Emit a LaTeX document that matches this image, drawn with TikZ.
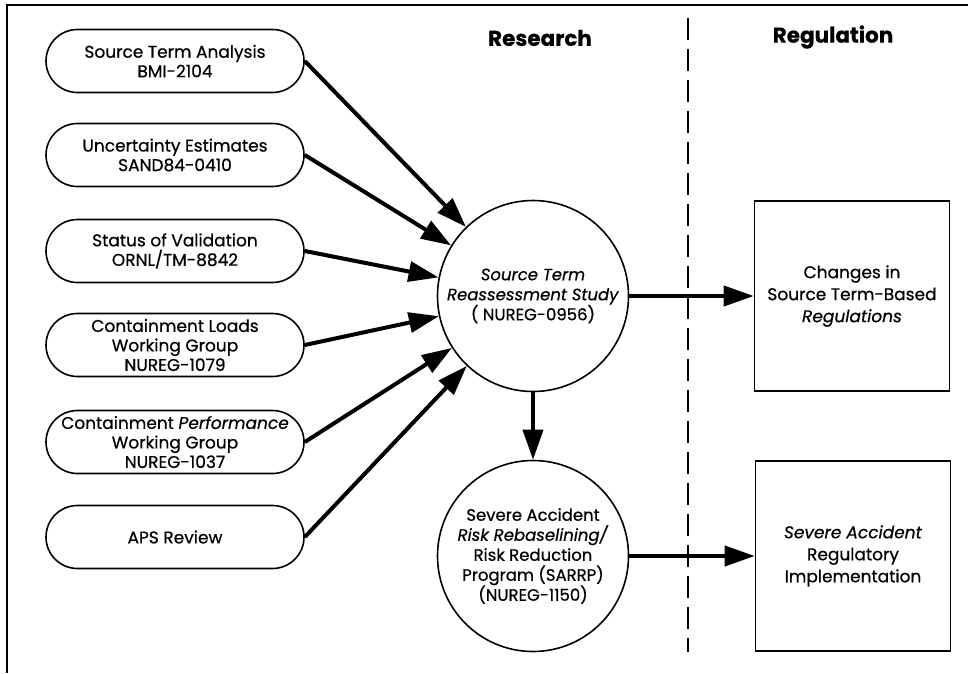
\documentclass[tikz,border=0pt]{standalone}
\usepackage{fontspec}
\setmainfont{Poppins}[FakeBold=0.6]
\usetikzlibrary{shapes.misc, arrows.meta, positioning}

\begin{document}
\begin{tikzpicture}[x=1pt, y=-1pt,
  report/.style={rounded rectangle, draw, line width=1.6pt, minimum width=260pt, minimum height=63pt, inner sep=1pt, align=center, font=\fontsize{17}{19.5}\selectfont},
  study/.style={circle, draw, line width=1.6pt, minimum size=191pt, inner sep=0pt, align=center, font=\fontsize{16.5}{20}\selectfont},
  rule/.style={rectangle, draw, line width=1.6pt, minimum width=195pt, minimum height=190pt, align=center, font=\fontsize{17}{22}\selectfont},
  heading/.style={font=\bfseries\fontsize{21.5}{24}\selectfont},
  feed/.style={-{Triangle[length=30pt,width=20pt]}, line width=4pt}]
\useasboundingbox (0,0) rectangle (968,673);

% frame
\draw[line width=1.8pt] (968,5) -- (7,5) -- (7,673);

\node[heading] (res) at (540,38) {Research};
\node[heading] (reg) at (833,37) {Regulation};
\draw[line width=1.5pt, dash pattern=on 22pt off 9pt] (688,18) -- (688,652);

% input reports
\node[report] (bmi) at (175,61) {Source Term Analysis\\BMI-2104};
\node[report] (sand) at (175,155) {Uncertainty Estimates\\SAND84-0410};
\node[report] (ornl) at (175,251) {Status of Validation\\ORNL/TM-8842};
\node[report] (loads) at (175,345) {Containment Loads\\Working Group\\NUREG-1079};
\node[report] (perf) at (175,442) {Containment \textit{Performance}\\Working Group\\NUREG-1037};
\node[report] (aps) at (175,537) {APS Review};

% research
\node[study] (rsa) at (533,296) {\textit{Source Term}\\\textit{Reassessment Study}\\( NUREG-0956)};
\node[study] (sarrp) at (533,556) {Severe Accident\\\textit{Risk Rebaselining/}\\Risk Reduction\\Program (SARRP)\\(NUREG-1150)};

% regulation
\node[rule] (chg) at (852,296) {Changes in\\Source Term-Based\\\textit{Regulations}};
\node[rule] (impl) at (853,556) {\textit{Severe Accident}\\Regulatory\\Implementation};

\draw[feed] (bmi.east) -- (rsa);
\draw[feed] (sand.east) -- (rsa);
\draw[feed] (ornl.east) -- (rsa);
\draw[feed] (loads.east) -- (rsa);
\draw[feed] (perf.east) -- (rsa);
\draw[feed] (aps.east) -- (rsa);

\draw[feed] (rsa) -- (sarrp);
\draw[feed] (rsa) -- (chg);
\draw[feed] (sarrp) -- (impl);
\end{tikzpicture}
\end{document}
